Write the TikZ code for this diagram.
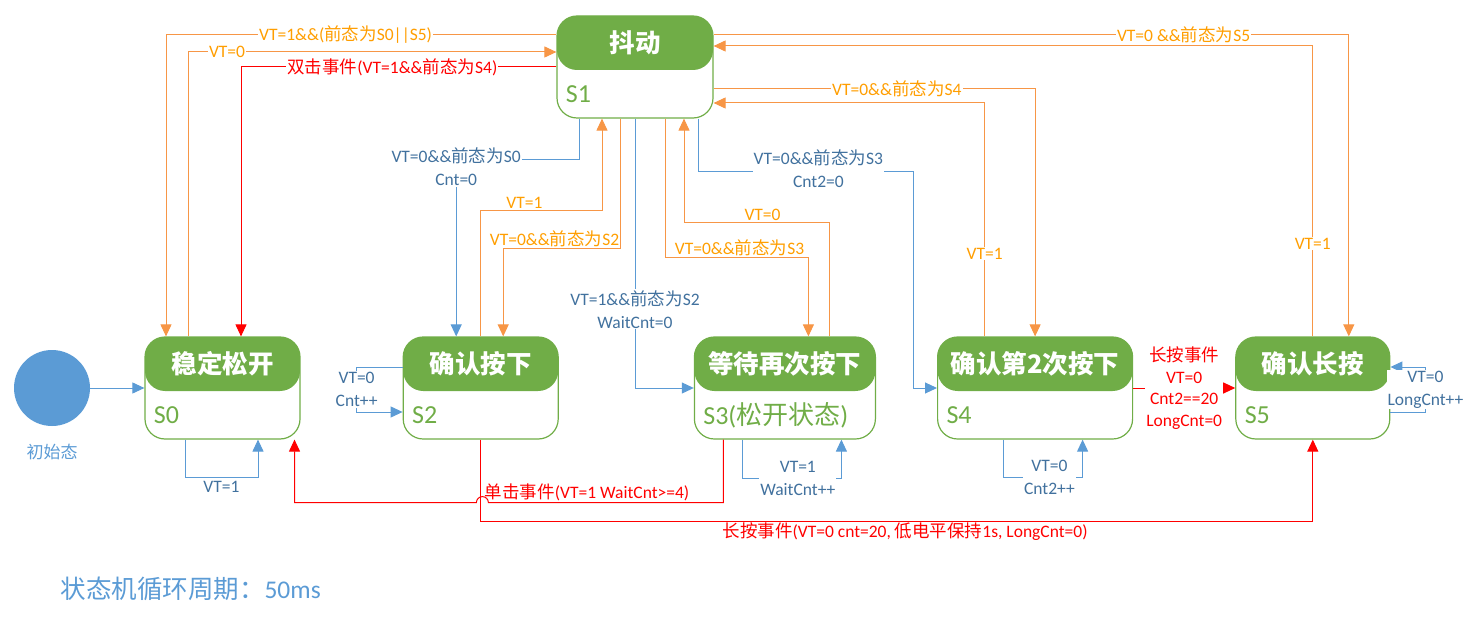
\documentclass[tikz,border=0pt]{standalone}
\usepackage{fontspec}
\setmainfont{Carlito}
\newfontfamily\cjk{Noto Sans CJK SC}
\usetikzlibrary{positioning,arrows.meta}
\definecolor{stategreen}{RGB}{112,173,71}
\definecolor{linkblue}{RGB}{91,155,213}
\definecolor{textblue}{RGB}{65,113,158}
\definecolor{linkorange}{RGB}{247,150,70}
\definecolor{textorange}{RGB}{255,158,0}
\definecolor{eventred}{RGB}{255,0,0}
\newcommand{\zh}[1]{{\cjk #1}}

\begin{document}
\begin{tikzpicture}[x=1pt,y=-1pt,
    statebox/.style={rectangle,rounded corners=20pt,draw=stategreen,line width=1.2pt,minimum width=155pt,minimum height=102pt,inner sep=0pt,
        path picture={\fill[stategreen] (path picture bounding box.north west) rectangle ([yshift=-54pt]path picture bounding box.north east);}},
    hdtext/.style={text=white,font=\fontsize{25.5}{28}\selectfont\cjk\bfseries},
    sid/.style={text=stategreen,font=\fontsize{26}{30}\selectfont,anchor=west},
    blu/.style={draw=linkblue,line width=1pt,-{Triangle[length=12pt,width=11pt]}},
    org/.style={draw=linkorange,line width=1pt,-{Triangle[length=12pt,width=11pt]}},
    evt/.style={draw=eventred,line width=1pt,-{Triangle[length=12pt,width=11pt]}},
    bluetxt/.style={text=textblue,font=\fontsize{17.5}{23}\selectfont,align=center,inner sep=1pt},
    orgtxt/.style={text=textorange,font=\fontsize{17.5}{23}\selectfont,align=center,inner sep=1pt},
    redtxt/.style={text=eventred,font=\fontsize{17.5}{21.7}\selectfont,align=center,inner sep=1pt},
    onwire/.style={fill=white}
]
    \useasboundingbox (0,0) rectangle (1471,617);

    % states
    \node[statebox] (s0) at (222.5,388) {};
    \node[statebox,right=102pt of s0] (s2) {};
    \node[statebox,minimum width=181pt,right=135pt of s2] (s3) {};
    \node[statebox,minimum width=195pt,right=61pt of s3] (s4) {};
    \node[statebox,minimum width=154pt,right=102pt of s4] (s5) {};
    \node[statebox,minimum width=156pt] (s1) at (635,67) {};

    \node[hdtext] (s0t) at ([yshift=-27pt]s0.north) {稳定松开};
    \node[hdtext] (s1t) at ([yshift=-27pt]s1.north) {抖动};
    \node[hdtext] (s2t) at ([yshift=-27pt]s2.north) {确认按下};
    \node[hdtext] (s3t) at ([yshift=-27pt]s3.north) {等待再次按下};
    \node[hdtext] (s4t) at ([yshift=-27pt]s4.north) {确认第2次按下};
    \node[hdtext] (s5t) at ([yshift=-27pt]s5.north) {确认长按};

    \node[sid] (s0i) at ([xshift=6pt,yshift=-27pt]s0.west) {S0};
    \node[sid] (s1i) at ([xshift=6pt,yshift=-27pt]s1.west) {S1};
    \node[sid] (s2i) at ([xshift=6pt,yshift=-27pt]s2.west) {S2};
    \node[sid] (s3i) at ([xshift=6pt,yshift=-27pt]s3.west) {S3(\zh{松开状态})};
    \node[sid] (s4i) at ([xshift=6pt,yshift=-27pt]s4.west) {S4};
    \node[sid] (s5i) at ([xshift=6pt,yshift=-27pt]s5.west) {S5};

    % initial state
    \node[circle,fill=linkblue,minimum size=76pt,inner sep=0pt] (init) at (52,388) {};
    \node[text=linkblue,font=\fontsize{17}{20}\selectfont\cjk] (initlbl) at (52,452) {初始态};
    \draw[blu] (init) -- (s0.west);

    % S1 <-> S0
    \draw[org] ([yshift=32pt]s1.west) -| node[pos=.27,orgtxt,onwire]{VT=1\&\&(\zh{前态为}S0||S5)} ([xshift=-56.5pt]s0.north);
    \draw[org] ([xshift=-34.5pt]s0.north) |- node[pos=.553,orgtxt,onwire]{VT=0} ([yshift=15pt]s1.west);
    \draw[evt] (s1.west) -| node[pos=.26,redtxt,onwire]{\zh{双击事件}(VT=1\&\&\zh{前态为}S4)} ([xshift=18.5pt]s0.north);

    % S1 <-> S2
    \draw[blu] ([xshift=-56pt]s1.south) -- ++(0,41) -| node[pos=.5,bluetxt,onwire,yshift=-7pt]{VT=0\&\&\zh{前态为}S0\\Cnt=0} ([xshift=-24.5pt]s2.north);
    \draw[org] (s2.north) -- ++(0,-126) -| node[pos=.18,orgtxt,above]{VT=1} ([xshift=-33pt]s1.south);
    \draw[org] ([xshift=-15pt]s1.south) -- ++(0,130) -| node[pos=.28,orgtxt,above]{VT=0\&\&\zh{前态为}S2} ([xshift=22.5pt]s2.north);

    % S1 <-> S3
    \draw[blu] (s1.south) |- node[pos=.354,bluetxt,onwire]{VT=1\&\&\zh{前态为}S2\\WaitCnt=0} (s3.west);
    \draw[org] ([xshift=30pt]s1.south) -- ++(0,139) -| node[pos=.26,orgtxt,above]{VT=0\&\&\zh{前态为}S3} ([xshift=23.5pt]s3.north);
    \draw[org] ([xshift=44.5pt]s3.north) -- ++(0,-114) -| node[pos=.23,orgtxt,above]{VT=0} ([xshift=49pt]s1.south);

    % S1 <-> S4
    \draw[blu] ([xshift=63pt]s1.south) -- ++(0,53) -- node[pos=.56,bluetxt,onwire,yshift=3pt]{VT=0\&\&\zh{前态为}S3\\Cnt2=0} ++(215,0) |- (s4.west);
    \draw[org] ([yshift=-22pt]s1.east) -| node[pos=.285,orgtxt,onwire]{VT=0\&\&\zh{前态为}S4} (s4.north);
    \draw[org] ([xshift=-50.5pt]s4.north) |- node[pos=.177,orgtxt,onwire]{VT=1} ([yshift=-36pt]s1.east);

    % S1 <-> S5
    \draw[org] ([yshift=32pt]s1.east) -| node[pos=.37,orgtxt,onwire]{VT=0 \&\&\zh{前态为}S5} ([xshift=36pt]s5.north);
    \draw[org] (s5.north) |- node[pos=.16,orgtxt,onwire]{VT=1} ([yshift=21pt]s1.east);

    % self loops
    \draw[blu] ([xshift=-37.5pt]s0.south) -- ++(0,38) -| node[pos=.25,bluetxt,below,yshift=-2pt]{VT=1} ([xshift=35.5pt]s0.south);
    \draw[blu] ([yshift=21pt]s2.west) -| node[pos=.75,bluetxt,onwire]{VT=0\\Cnt++} ++(-46,45) -- ([yshift=-24pt]s2.west);
    \draw[blu] ([xshift=-42.5pt]s3.south) -- ++(0,39) -| node[pos=.28,bluetxt,onwire]{VT=1\\WaitCnt++} ([xshift=56.5pt]s3.south);
    \draw[blu] ([xshift=-31.5pt]s4.south) -- ++(0,38) -| node[pos=.29,bluetxt,onwire]{VT=0\\Cnt2++} ([xshift=47.5pt]s4.south);
    \draw[blu] ([yshift=-24pt]s5.east) -| node[pos=.75,bluetxt,onwire]{VT=0\\LongCnt++} ++(35,-45) -- ([yshift=21pt]s5.east);

    % events
    \draw[evt] (s4.east) -- node[redtxt,onwire]{\zh{长按事件}\\VT=0\\Cnt2==20\\LongCnt=0} (s5.west);
    \draw[evt] ([xshift=-61.5pt]s3.south) -- ++(0,63) -- node[pos=.58,redtxt,above]{\zh{单击事件}(VT=1 WaitCnt>=4)} ++(-235,0)
        arc[start angle=0,end angle=180,radius=6pt] -| ([xshift=72pt]s0.south);
    \draw[evt] (s2.south) -- ++(0,82) -| node[pos=.255,redtxt,below]{\zh{长按事件}(VT=0 cnt=20, \zh{低电平保持}1s, LongCnt=0)} (s5.south);

    \node[anchor=west,text=linkblue,font=\fontsize{25.5}{28}\selectfont] (cycle) at (57,589) {\zh{状态机循环周期：}50ms};
\end{tikzpicture}
\end{document}
